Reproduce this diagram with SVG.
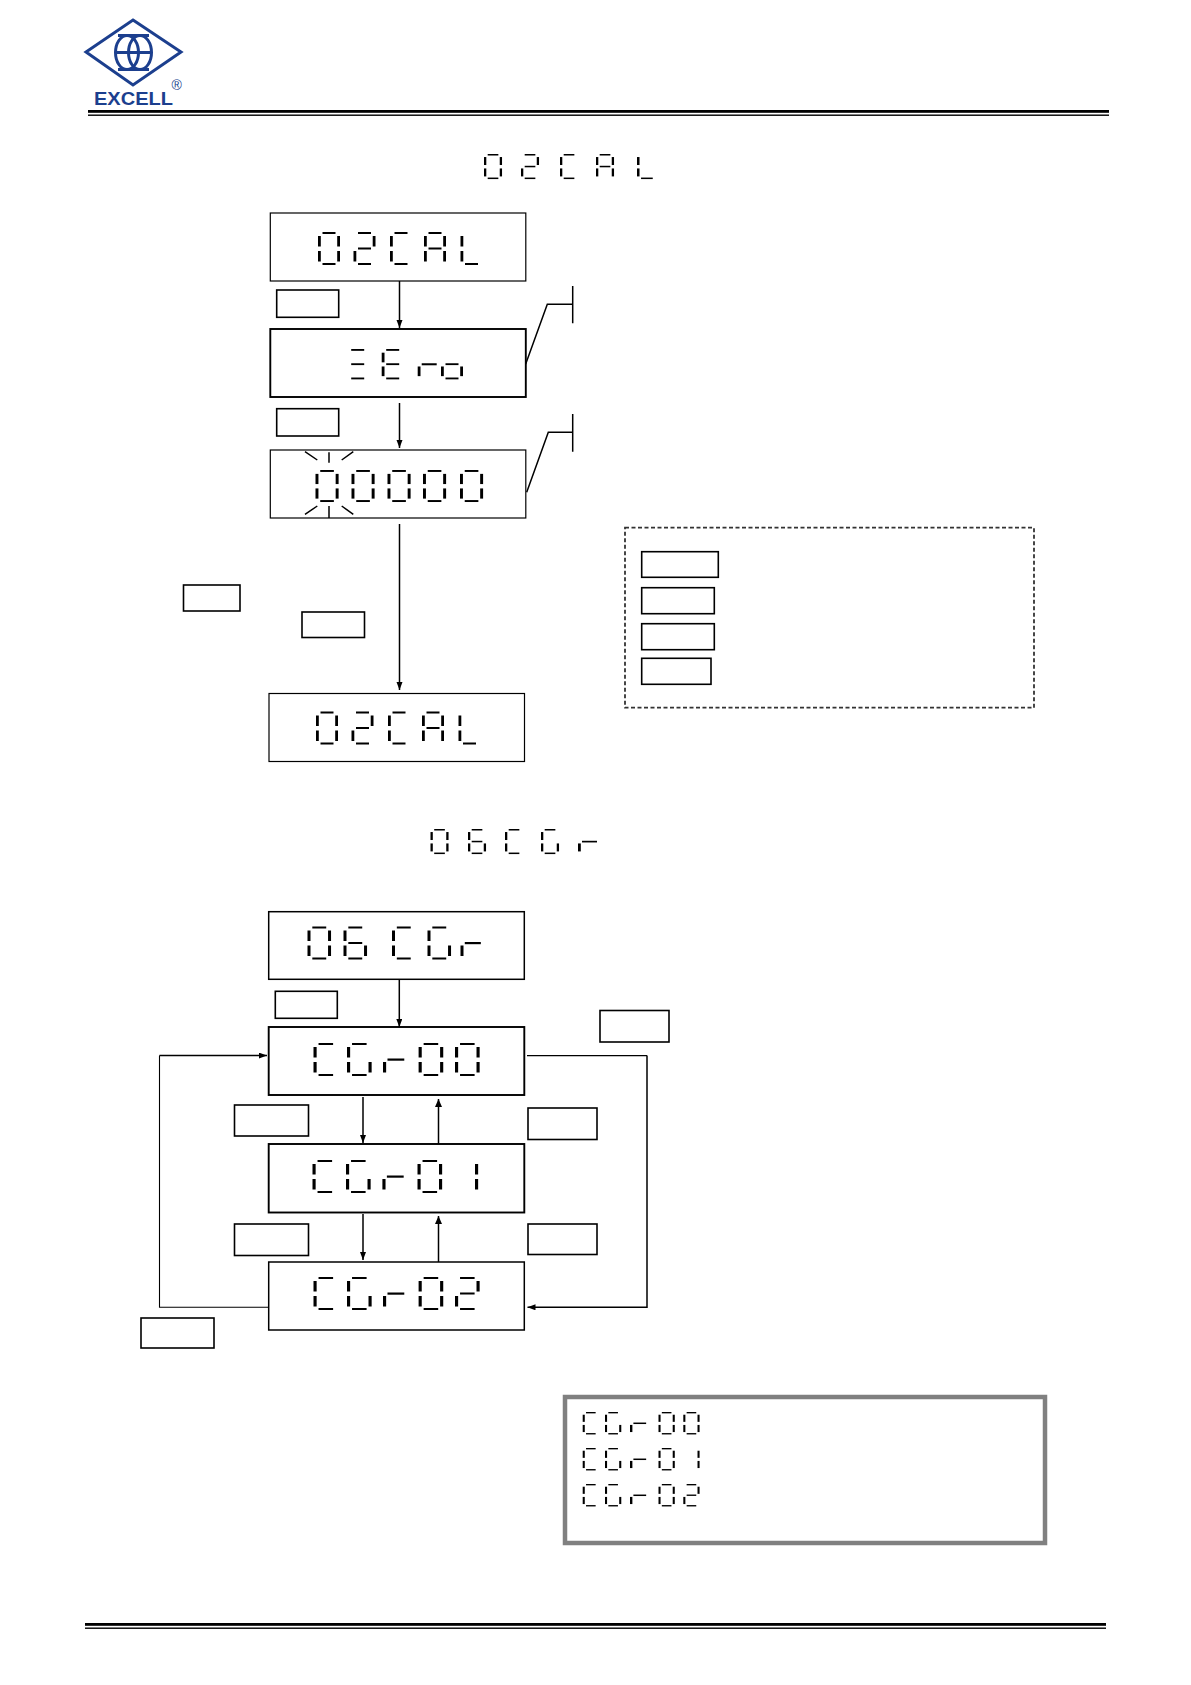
<svg xmlns="http://www.w3.org/2000/svg" width="1191" height="1685" viewBox="0 0 1191 1685">
<style>
.box{fill:#fff;stroke:#000;stroke-width:1.2}
.key{fill:#fff;stroke:#000;stroke-width:1.6}
.hv{stroke-width:1.9}
.mid{stroke-width:1.5}
.c{fill:none;stroke:#000;stroke-width:1.5}
.t{fill:none;stroke:#000;stroke-width:1.1}
.s{fill:#000}
.logo{fill:none;stroke:#1c3f8e;stroke-width:3}
</style>
<defs>
<marker id="ah" markerUnits="userSpaceOnUse" markerWidth="9" markerHeight="7" refX="8" refY="3" orient="auto"><path d="M0 0L8 3L0 6z" fill="#000"/></marker>
<marker id="au" markerUnits="userSpaceOnUse" markerWidth="9" markerHeight="8" refX="8" refY="3.500" orient="auto"><path d="M0 0L8 3.500L0 7z" fill="#000"/></marker>
<rect id="a" class="s" x="4.500" y="0" width="13" height="2"/>
<rect id="g" class="s" x="4.500" y="15.500" width="13" height="2"/>
<rect id="d" class="s" x="4.500" y="31" width="13" height="2"/>
<rect id="f" class="s" x="0" y="4" width="2.800" height="10.500"/>
<rect id="b" class="s" x="19.200" y="4" width="2.800" height="10.500"/>
<rect id="e" class="s" x="0" y="19" width="2.800" height="10.500"/>
<rect id="k" class="s" x="19.200" y="19" width="2.800" height="10.500"/>
<rect id="gr" class="s" x="4" y="15.500" width="15" height="2.200"/>
<g id="n0"><use href="#a"/><use href="#b"/><use href="#k"/><use href="#d"/><use href="#e"/><use href="#f"/></g>
<g id="n1"><use href="#b"/><use href="#k"/></g>
<g id="n2"><use href="#a"/><use href="#b"/><use href="#g"/><use href="#e"/><use href="#d"/></g>
<g id="n6"><use href="#a"/><use href="#f"/><use href="#g"/><use href="#e"/><use href="#k"/><use href="#d"/></g>
<g id="lC"><use href="#a"/><use href="#f"/><use href="#e"/><use href="#d"/></g>
<g id="lG"><use href="#a"/><use href="#f"/><use href="#e"/><use href="#d"/><use href="#k"/></g>
<g id="lA"><use href="#a"/><use href="#b"/><use href="#k"/><use href="#e"/><use href="#f"/><use href="#g"/></g>
<g id="lL"><use href="#f"/><use href="#e"/><use href="#d"/></g>
<g id="lE"><use href="#a"/><use href="#f"/><use href="#g"/><use href="#e"/><use href="#d"/></g>
<g id="lr"><use href="#gr"/><use href="#e"/></g>
<g id="lo"><use href="#g"/><use href="#e"/><use href="#k"/><use href="#d"/></g>
<g id="lZ"><use href="#a"/><use href="#g"/><use href="#d"/></g>
</defs>
<rect width="1191" height="1685" fill="#fff"/>

<g id="logo">
<path class="logo" d="M133 20L181 52L133 85L86 52Z"/>
<ellipse class="logo" cx="127" cy="52.500" rx="11.500" ry="17"/>
<ellipse class="logo" cx="140" cy="52.500" rx="11.500" ry="17"/>
<path class="logo" d="M116 52.500H151M118 35.500H149M118 69.500H149"/>
<text x="94" y="105" font-family="Liberation Sans, Arial, sans-serif" font-weight="700" font-size="18.500" fill="#1c3f8e" textLength="79" lengthAdjust="spacingAndGlyphs">EXCELL</text>
<text x="171.500" y="90" font-family="Liberation Sans, Arial, sans-serif" font-size="14" fill="#1c3f8e">®</text>
</g>
<g id="rules">
<rect x="88" y="110" width="1021" height="2.800" fill="#000"/><rect x="88" y="114.500" width="1021" height="1.400" fill="#000"/>
<rect x="85" y="1623" width="1021" height="2.800" fill="#000"/><rect x="85" y="1627.500" width="1021" height="1.400" fill="#000"/>
</g>

<g id="title-02cal" aria-label="02CAL">
<use href="#n0" transform="translate(484 154) scale(.82 .76)"/><use href="#n2" transform="translate(521 154) scale(.82 .76)"/><use href="#lC" transform="translate(560 154) scale(.82 .76)"/><use href="#lA" transform="translate(596 154) scale(.82 .76)"/><use href="#lL" transform="translate(637 154) scale(.9 .76)"/>
</g>
<g id="title-06cgr" aria-label="06CGr">
<use href="#n0" transform="translate(430.500 829) scale(.82 .76)"/><use href="#n6" transform="translate(468 829) scale(.82 .76)"/><use href="#lC" transform="translate(505 829) scale(.82 .76)"/><use href="#lG" transform="translate(541 829) scale(.82 .76)"/><use href="#lr" transform="translate(578 829) scale(1 .76)"/>
</g>

<g id="connectors">
<path class="c" d="M399.500 281V328" marker-end="url(#ah)"/>
<path class="c" d="M399.500 403V448" marker-end="url(#ah)"/>
<path class="c" d="M399.500 524V690" marker-end="url(#ah)"/>
<path class="c" d="M525.700 364L547.300 304.300H572.700M572.700 286V323.300"/>
<path class="c" d="M526.700 492.300L548.300 432.300H572.700M572.700 414V451.700"/>
<path class="c" d="M399.300 979V1027" marker-end="url(#ah)"/>
<path class="c" d="M363 1097V1143" marker-end="url(#ah)"/>
<path class="c" d="M438.500 1144V1099" marker-end="url(#au)"/>
<path class="c" d="M363 1214V1260" marker-end="url(#ah)"/>
<path class="c" d="M438.500 1262V1216" marker-end="url(#au)"/>
<path class="t" d="M269 1307.300H159.500V1055.600"/>
<path class="c" d="M159.500 1055.600H267" marker-end="url(#ah)"/>
<path class="t" d="M527 1055.600H647"/>
<path class="c" d="M647 1055.600V1307.300H527.500" marker-end="url(#ah)"/>
</g>

<g id="node-02cal-a" aria-label="02CAL">
<rect class="box" x="270.300" y="213" width="255.500" height="68"/>
<use href="#n0" x="318" y="232"/><use href="#n2" x="353.500" y="232"/><use href="#lC" x="390" y="232"/><use href="#lA" x="424" y="232"/><use href="#lL" x="460.500" y="232"/>
</g>
<g id="key-1"><rect class="key" x="276.700" y="290" width="62" height="27.300"/></g>
<g id="node-zero" aria-label="ZEro">
<rect class="box hv" x="270.300" y="329" width="255.500" height="68"/>
<use href="#lZ" transform="translate(346.700 349) scale(1 .92)"/><use href="#lE" transform="translate(381.700 349) scale(1 .92)"/><use href="#lr" transform="translate(417.700 349) scale(1 .92)"/><use href="#lo" transform="translate(441 349) scale(1 .92)"/>
</g>
<g id="key-2"><rect class="key" x="276.700" y="408.700" width="62" height="27.300"/></g>
<g id="node-00000" aria-label="00000">
<rect class="box" x="270.300" y="450" width="255.500" height="68"/>
<use href="#n0" transform="translate(315.500 470) scale(1.05 .97)"/><use href="#n0" transform="translate(351.500 470) scale(1.05 .97)"/><use href="#n0" transform="translate(387.500 470) scale(1.05 .97)"/><use href="#n0" transform="translate(423 470) scale(1.05 .97)"/><use href="#n0" transform="translate(460 470) scale(1.05 .97)"/>
<path class="c" d="M305 451.700L317.300 460M329 452.300V462.700M341.700 460L353.300 451.700M305 514.300L317.300 506M329 506V518M341.700 506L353.300 514.300"/>
</g>
<g id="key-3"><rect class="key" x="183.500" y="585" width="56.500" height="26"/></g>
<g id="key-4"><rect class="key" x="302" y="612" width="62.500" height="25.500"/></g>
<g id="node-02cal-b" aria-label="02CAL">
<rect class="box" x="269" y="693.500" width="255.500" height="68"/>
<use href="#n0" x="316" y="711.500"/><use href="#n2" x="351.500" y="711.500"/><use href="#lC" x="388" y="711.500"/><use href="#lA" x="422" y="711.500"/><use href="#lL" x="458.500" y="711.500"/>
</g>

<g id="legend">
<rect x="625" y="527.700" width="409" height="180" fill="none" stroke="#333" stroke-width="1.800" stroke-dasharray="4 2.500"/>
<rect class="key" x="641.700" y="551.700" width="76.600" height="25.600"/>
<rect class="key" x="641.700" y="587.700" width="72.600" height="26"/>
<rect class="key" x="641.700" y="623.700" width="72.600" height="26"/>
<rect class="key" x="641.700" y="658.300" width="69.300" height="26"/>
</g>

<g id="node-06cgr" aria-label="06 CGr">
<rect class="box mid" x="268.700" y="911.700" width="255.600" height="67.600"/>
<use href="#n0" transform="translate(307.500 926.500) scale(1.07 1)"/><use href="#n6" transform="translate(343.500 926.500) scale(1.07 1)"/><use href="#lC" transform="translate(392 926.500) scale(1.07 1)"/><use href="#lG" transform="translate(427.500 926.500) scale(1.07 1)"/><use href="#lr" transform="translate(460.500 926.500) scale(1.07 1)"/>
</g>
<g id="key-5"><rect class="key" x="275.300" y="991.300" width="62" height="27"/></g>
<g id="node-cgr00" aria-label="CGr00">
<rect class="box hv" x="268.700" y="1027" width="255.600" height="68"/>
<use href="#lC" transform="translate(313.500 1043) scale(1.12 1)"/><use href="#lG" transform="translate(347 1043) scale(1.12 1)"/><use href="#lr" transform="translate(383 1043) scale(1.12 1)"/><use href="#n0" transform="translate(418.600 1043) scale(1.12 1)"/><use href="#n0" transform="translate(455 1043) scale(1.12 1)"/>
</g>
<g id="node-cgr01" aria-label="CGr01">
<rect class="box hv" x="268.700" y="1144" width="255.600" height="68.500"/>
<use href="#lC" transform="translate(312.500 1160) scale(1.12 1)"/><use href="#lG" transform="translate(346 1160) scale(1.12 1)"/><use href="#lr" transform="translate(382.400 1160) scale(1.12 1)"/><use href="#n0" transform="translate(417.500 1160) scale(1.12 1)"/><use href="#n1" transform="translate(453.500 1160) scale(1.12 1)"/>
</g>
<g id="node-cgr02" aria-label="CGr02">
<rect class="box mid" x="268.700" y="1262" width="255.600" height="68"/>
<use href="#lC" transform="translate(313.500 1277) scale(1.12 1)"/><use href="#lG" transform="translate(347 1277) scale(1.12 1)"/><use href="#lr" transform="translate(383 1277) scale(1.12 1)"/><use href="#n0" transform="translate(418.600 1277) scale(1.12 1)"/><use href="#n2" transform="translate(455 1277) scale(1.12 1)"/>
</g>
<g id="key-6"><rect class="key" x="600" y="1010.500" width="69" height="31.500"/></g>
<g id="key-7"><rect class="key" x="234.500" y="1105" width="74" height="31"/></g>
<g id="key-8"><rect class="key" x="528" y="1108" width="69" height="31.500"/></g>
<g id="key-9"><rect class="key" x="234.500" y="1224" width="74" height="31.500"/></g>
<g id="key-10"><rect class="key" x="528" y="1224" width="69" height="30.500"/></g>
<g id="key-11"><rect class="key" x="141" y="1318" width="73" height="30"/></g>

<g id="note">
<rect x="565" y="1397" width="480" height="146" fill="#fff" stroke="#808080" stroke-width="4.500"/>
<g aria-label="CGr00"><use href="#lC" transform="translate(582.700 1412) scale(.74 .68)"/><use href="#lG" transform="translate(605 1412) scale(.74 .68)"/><use href="#lr" transform="translate(630 1412) scale(.85 .68)"/><use href="#n0" transform="translate(658.500 1412) scale(.74 .68)"/><use href="#n0" transform="translate(683.300 1412) scale(.74 .68)"/></g>
<g aria-label="CGr01"><use href="#lC" transform="translate(582.700 1448) scale(.74 .68)"/><use href="#lG" transform="translate(605 1448) scale(.74 .68)"/><use href="#lr" transform="translate(630 1448) scale(.85 .68)"/><use href="#n0" transform="translate(658.500 1448) scale(.74 .68)"/><use href="#n1" transform="translate(683.300 1448) scale(.74 .68)"/></g>
<g aria-label="CGr02"><use href="#lC" transform="translate(582.700 1484) scale(.74 .68)"/><use href="#lG" transform="translate(605 1484) scale(.74 .68)"/><use href="#lr" transform="translate(630 1484) scale(.85 .68)"/><use href="#n0" transform="translate(658.500 1484) scale(.74 .68)"/><use href="#n2" transform="translate(683.300 1484) scale(.74 .68)"/></g>
</g>
</svg>
